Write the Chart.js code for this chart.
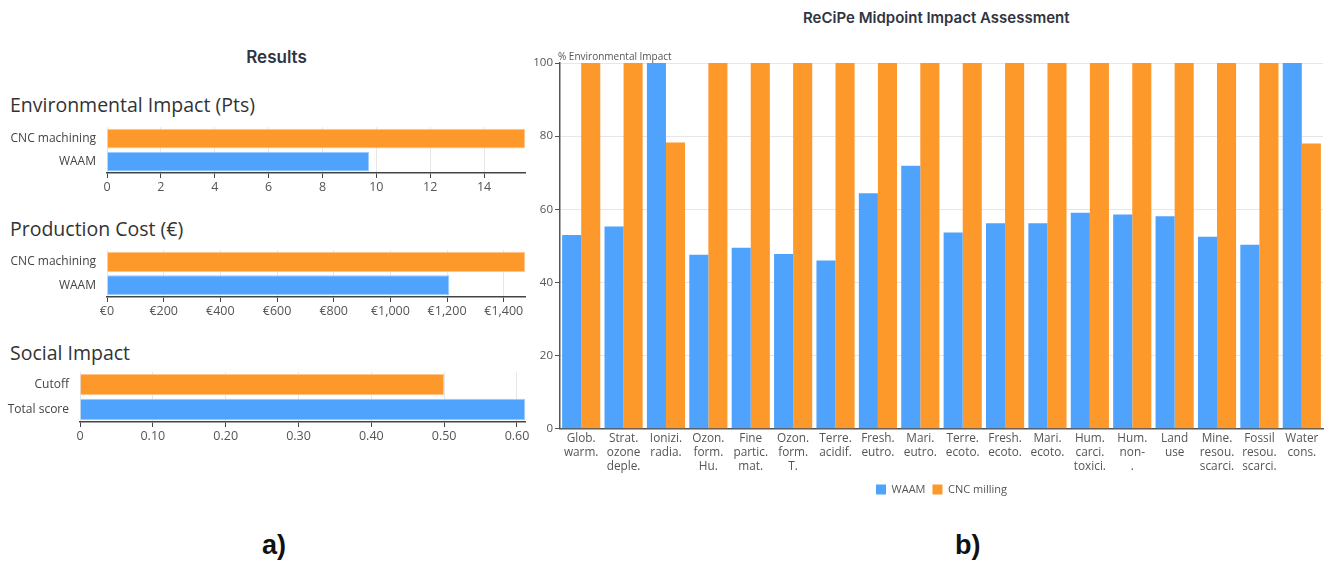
<!DOCTYPE html>
<html>
<head>
<meta charset="utf-8">
<script src="https://cdn.jsdelivr.net/npm/chart.js@4/dist/chart.umd.min.js"></script>
<style>
  html, body { margin: 0; padding: 0; background: #fff; overflow: hidden; }
  body { width: 1326px; height: 561px; position: relative; font-family: 'Open Sans', sans-serif; }
  .box { position: absolute; }
  .txt { position: absolute; white-space: nowrap; color: #333; }
  .head { font-size: 19.5px; left: 10px; }
  .panel { font-family: 'Liberation Sans', Arial, sans-serif; font-weight: bold; font-size: 27px; color: #111; }
</style>
</head>
<body>
<div class="txt" style="left:0;width:553px;text-align:center;top:47px;font-family:Inter,sans-serif;font-weight:600;font-size:17px;color:#2f3542;">Results</div>
<div class="txt head" style="top:91px;">Environmental Impact (Pts)</div>
<div class="txt head" style="top:215px;">Production Cost (€)</div>
<div class="txt head" style="top:339px;">Social Impact</div>
<div class="txt" style="left:803px;top:8px;font-family:Inter,sans-serif;font-weight:600;font-size:15px;color:#2f3542;">ReCiPe Midpoint Impact Assessment</div>
<div class="txt panel" style="left:262px;top:530px;">a)</div>
<div class="txt panel" style="left:955px;top:530px;">b)</div>

<div class="box" style="left:0;top:117px;width:540px;height:80px;"><canvas id="envChart"></canvas></div>
<div class="box" style="left:0;top:240px;width:540px;height:81px;"><canvas id="costChart"></canvas></div>
<div class="box" style="left:0;top:362px;width:540px;height:84px;"><canvas id="socialChart"></canvas></div>
<div class="box" style="left:520px;top:40px;width:806px;height:465px;"><canvas id="recipeChart"></canvas></div>

<script>
const orange = '#fd982a';
const blue = '#4fa3fc';

// left panel data
const envLabels = ['CNC machining', 'WAAM'];
const envValues = [15.52, 9.73];
const costLabels = ['CNC machining', 'WAAM'];
const costValues = [1475, 1208];
const socialLabels = ['Cutoff', 'Total score'];
const socialValues = [0.50, 0.611];

// right panel data
const impactCategories = [
    ['Glob.', 'warm.'], ['Strat.', 'ozone', 'deple.'], ['Ionizi.', 'radia.'],
    ['Ozon.', 'form.', 'Hu.'], ['Fine', 'partic.', 'mat.'], ['Ozon.', 'form.', 'T.'],
    ['Terre.', 'acidif.'], ['Fresh.', 'eutro.'], ['Mari.', 'eutro.'],
    ['Terre.', 'ecoto.'], ['Fresh.', 'ecoto.'], ['Mari.', 'ecoto.'],
    ['Hum.', 'carci.', 'toxici.'], ['Hum.', 'non-', '.'], ['Land', 'use'],
    ['Mine.', 'resou.', 'scarci.'], ['Fossil', 'resou.', 'scarci.'], ['Water', 'cons.']
];
const waamValues = [53.0, 55.3, 100, 47.6, 49.5, 47.8, 46.0, 64.4, 71.9, 53.7, 56.2, 56.2, 59.1, 58.6, 58.1, 52.5, 50.3, 100];
const cncValues = [100, 100, 78.3, 100, 100, 100, 100, 100, 100, 100, 100, 100, 100, 100, 100, 100, 100, 78.0];
const yTicks = [0, 20, 40, 60, 80, 100];

Chart.defaults.font.family = "'Open Sans', sans-serif";
Chart.defaults.color = '#555';
Chart.defaults.animation = false;

const resultsBar = (id, labels, values, max, step, labelWidth, fmt) => {
    new Chart(document.getElementById(id), {
        type: 'bar',
        data: {
            labels: labels,
            datasets: [{
                data: values,
                backgroundColor: [orange, blue],
                borderColor: ['#ffc58a', '#9ccbff'],
                borderWidth: 1,
                barPercentage: 1,
                categoryPercentage: 0.86
            }]
        },
        options: {
            indexAxis: 'y',
            responsive: true,
            maintainAspectRatio: false,
            layout: { padding: { top: 4, right: 15, bottom: 0, left: 0 } },
            plugins: { legend: { display: false }, tooltip: { enabled: false } },
            scales: {
                x: {
                    min: 0,
                    max: max,
                    ticks: { stepSize: step, includeBounds: false, padding: 2, font: { size: 12.5 }, color: '#555', callback: fmt },
                    grid: { color: '#e6e6ea', tickColor: '#444', tickLength: 5 },
                    border: { color: '#444', width: 1.5 }
                },
                y: {
                    afterFit: (scale) => { scale.width = labelWidth; },
                    ticks: { padding: 3, font: { size: 12 }, color: '#444' },
                    grid: { display: false },
                    border: { display: false }
                }
            }
        }
    });
};

resultsBar('envChart', envLabels, envValues, 15.52, 2, 107, v => v);
resultsBar('costChart', costLabels, costValues, 1475, 200, 107, v => '€' + v.toLocaleString('en-US'));
resultsBar('socialChart', socialLabels, socialValues, 0.611, 0.1, 80, v => v === 0 ? '0' : v.toFixed(2));

const yTitle = {
    id: 'yTitle',
    afterDraw(chart) {
        const ctx = chart.ctx;
        ctx.save();
        ctx.font = "10px 'Open Sans', sans-serif";
        ctx.fillStyle = '#555';
        ctx.textBaseline = 'bottom';
        ctx.fillText('% Environmental Impact', chart.chartArea.left - 2, chart.chartArea.top - 1);
        ctx.restore();
    }
};

new Chart(document.getElementById('recipeChart'), {
    type: 'bar',
    data: {
        labels: impactCategories,
        datasets: [
            { label: 'WAAM', data: waamValues, backgroundColor: blue, barPercentage: 1, categoryPercentage: 0.9 },
            { label: 'CNC milling', data: cncValues, backgroundColor: orange, barPercentage: 1, categoryPercentage: 0.9 }
        ]
    },
    options: {
        responsive: true,
        maintainAspectRatio: false,
        layout: { padding: { top: 23, right: 3, bottom: 0, left: 0 } },
        plugins: {
            legend: {
                position: 'bottom',
                fullSize: false,
                labels: { boxWidth: 10, boxHeight: 10, padding: 7, font: { size: 11 }, color: '#555' }
            },
            tooltip: { enabled: false }
        },
        scales: {
            x: {
                ticks: { padding: 3, font: { size: 11.8, lineHeight: 1.19 }, color: '#555', maxRotation: 0, autoSkip: false },
                grid: { display: false, drawTicks: false },
                border: { color: '#555', width: 1.5 }
            },
            y: {
                min: 0,
                max: 100,
                afterBuildTicks: (scale) => { scale.ticks = yTicks.map(v => ({ value: v })); },
                afterFit: (scale) => { scale.width = 40; },
                ticks: { padding: 2, font: { size: 11.5 }, color: '#555' },
                grid: { color: '#e6e6ea', tickColor: '#555', tickLength: 5 },
                border: { color: '#555', width: 1.5 }
            }
        }
    },
    plugins: [yTitle]
});
</script>
</body>
</html>
